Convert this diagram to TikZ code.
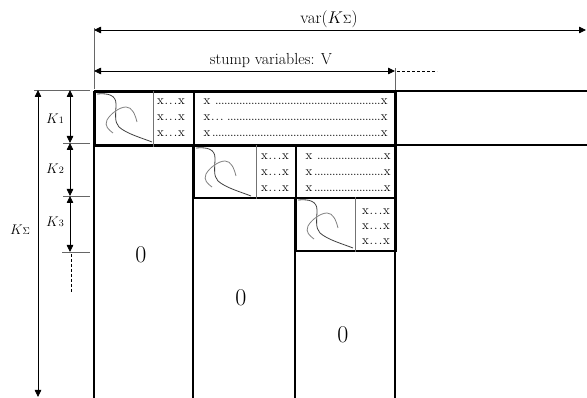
\RequirePackage{fix-cm}
\documentclass[tikz,border=0pt]{standalone}
\usepackage{fontspec}
\usetikzlibrary{arrows.meta}
% row of evenly spaced dots between the outer entries of a row
\newcommand\dotlead{\leaders\hbox to 3pt{\hss.\hss}\hfill}
% short run of three spaced dots
\newcommand\tridots{\kern0.8pt.\kern1pt.\kern1pt.\kern0.8pt}
\newcommand\fsz[1]{\fontsize{#1}{#1}\selectfont}
\tikzset{
  gridline/.style={line width=1.6pt},
  cellbox/.style={draw, line width=2pt, inner sep=0pt, anchor=north west},
  sepline/.style={line width=0.8pt, black!55},
  dim/.style={line width=0.8pt, {Triangle[length=7pt,width=6.5pt]}-{Triangle[length=7pt,width=6.5pt]}},
  ticky/.style={line width=0.8pt, black!60},
  dashy/.style={line width=0.8pt, dash pattern=on 3pt off 2pt},
  cell/.style={font=\fsz{13}, inner sep=0pt, anchor=base},
  lab/.style={inner sep=0pt, anchor=base},
  scribble/.pic={
    \draw[line width=0.8pt, black!75]
      (3,3) .. controls (14,2) and (22,4) .. (22,13)
            .. controls (22,22) and (20,31) .. (25,36)
            .. controls (33,43) and (48,47) .. (58,51);
    \draw[line width=0.8pt, black!50]
      (19,42) .. controls (15,39) and (10,35) .. (13,29)
              .. controls (17,22) and (26,16) .. (32,16)
              .. controls (38,16) and (41,23) .. (43,31);
  }
}
\begin{document}
\begin{tikzpicture}[x=1pt,y=-1pt]
\useasboundingbox (0,0) rectangle (587,398);

% ---- matrix frame ----
\coordinate (r1L) at (94,91);  \coordinate (r1R) at (587,91);
\coordinate (r2L) at (94,145); \coordinate (r2R) at (587,145);
\coordinate (c0T) at (94,91);  \coordinate (c0B) at (94,398);
\coordinate (c1T) at (193,145); \coordinate (c1B) at (193,398);
\coordinate (c2T) at (295,197); \coordinate (c2B) at (295,398);
\coordinate (c3T) at (395,91);  \coordinate (c3B) at (395,398);
\draw[gridline] (r1L) -- (r1R);
\draw[gridline] (r2L) -- (r2R);
\draw[gridline] (c0T) -- (c0B);
\draw[gridline] (c1T) -- (c1B);
\draw[gridline] (c2T) -- (c2B);
\draw[gridline] (c3T) -- (c3B);

% ---- blocks ----
\node[cellbox, minimum width=99pt,  minimum height=54pt] (b1) at (94,91) {};
\node[cellbox, minimum width=202pt, minimum height=54pt] (b2) at (193,91) {};
\node[cellbox, minimum width=102pt, minimum height=52pt] (b3) at (193,145) {};
\node[cellbox, minimum width=100pt, minimum height=52pt] (b4) at (295,145) {};
\node[cellbox, minimum width=100pt, minimum height=53pt] (b5) at (295,197) {};

\draw[sepline] ([xshift=59pt]b1.north west) -- ([xshift=59pt]b1.south west);
\draw[sepline] ([xshift=63pt]b3.north west) -- ([xshift=63pt]b3.south west);
\draw[sepline] ([xshift=60pt]b5.north west) -- ([xshift=60pt]b5.south west);

\pic at (b1.north west) {scribble};
\pic at (b3.north west) {scribble};
\pic at (b5.north west) {scribble};

% entries of the diagonal blocks
\node[cell] (e11) at (171,105) {x\tridots x};
\node[cell] (e12) at (171,121) {x\tridots x};
\node[cell] (e13) at (171,137) {x\tridots x};
\node[cell] (e31) at (275,160) {x\tridots x};
\node[cell] (e32) at (275,176) {x\tridots x};
\node[cell] (e33) at (275,192) {x\tridots x};
\node[cell] (e51) at (376,215) {x\tridots x};
\node[cell] (e52) at (376,230) {x\tridots x};
\node[cell] (e53) at (376,245) {x\tridots x};

% entries of the off-diagonal blocks
\node[cell] (f21) at (295.5,105) {\makebox[184pt]{x\ \dotlead x}};
\node[cell] (f22) at (295.5,121) {\makebox[184pt]{x\tridots\hspace{3pt}\dotlead x}};
\node[cell] (f23) at (295.5,137) {\makebox[184pt]{x\dotlead x}};
\node[cell] (f41) at (348,160) {\makebox[85pt]{x\ \dotlead x}};
\node[cell] (f42) at (348,176) {\makebox[85pt]{x\dotlead x}};
\node[cell] (f43) at (348,192) {\makebox[85pt]{x\dotlead x}};

% zero blocks
\node[lab, font=\fsz{24}] (z1) at (141,263) {0};
\node[lab, font=\fsz{24}] (z2) at (241,306) {0};
\node[lab, font=\fsz{24}] (z3) at (343,343) {0};

% ---- column dimensions ----
\coordinate (vT) at (94,28);  \coordinate (vB) at (94,89);
\draw[ticky] (vT) -- (vB);
\coordinate (vL) at (94,30);  \coordinate (vR) at (586,30);
\draw[dim] (vL) -- (vR);
\node[lab, font=\fsz{17}] (vlab) at (329,24) {var($K{\scriptstyle\Sigma}$)};

\coordinate (sL) at (94,71);  \coordinate (sR) at (395,71);
\draw[dim] (sL) -- (sR);
\coordinate (sT) at (395,68); \coordinate (sB) at (395,90);
\draw[ticky] (sT) -- (sB);
\coordinate (sD1) at (397,71); \coordinate (sD2) at (437,71);
\draw[dashy] (sD1) -- (sD2);
\node[lab, font=\fsz{16}] (slab) at (271,65) {stump variables: V};

% ---- row dimensions ----
\coordinate (h0L) at (34,90);  \coordinate (h0R) at (90,90);
\coordinate (h1L) at (63,143); \coordinate (h1R) at (90,143);
\coordinate (h2L) at (63,196); \coordinate (h2R) at (90,196);
\coordinate (h3L) at (62,252); \coordinate (h3R) at (90,252);
\draw[ticky] (h0L) -- (h0R);
\draw[ticky] (h1L) -- (h1R);
\draw[ticky] (h2L) -- (h2R);
\draw[ticky] (h3L) -- (h3R);

\coordinate (kT) at (38,90); \coordinate (kB) at (38,397);
\draw[dim] (kT) -- (kB);
\coordinate (k0) at (70,90);
\coordinate (k1) at (70,143);
\coordinate (k2) at (70,196);
\coordinate (k3) at (70,252);
\draw[dim] (k0) -- (k1);
\draw[dim] (k1) -- (k2);
\draw[dim] (k2) -- (k3);
\coordinate (kd1) at (71,254); \coordinate (kd2) at (71,293);
\draw[dashy] (kd1) -- (kd2);

\node[lab, font=\fsz{14}] (lk1) at (55,124) {$K{\scriptstyle 1}$};
\node[lab, font=\fsz{14}] (lk2) at (55,174) {$K{\scriptstyle 2}$};
\node[lab, font=\fsz{14}] (lk3) at (55,227) {$K{\scriptstyle 3}$};
\node[lab, font=\fsz{14}] (lks) at (20,235) {$K{\scriptstyle\Sigma}$};
\end{tikzpicture}
\end{document}
